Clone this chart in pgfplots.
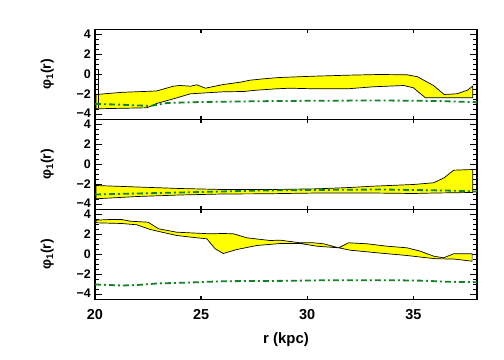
\documentclass[border=0pt]{standalone}
\usepackage{fontspec}
\setmainfont{Liberation Sans}
\usepackage{pgfplots}
\pgfplotsset{compat=1.18}

\definecolor{bandyellow}{RGB}{255,255,0}
\definecolor{dkgreen}{RGB}{20,130,40}

\pgfplotsset{
  panel/.style={
    width=382bp, height=90bp, scale only axis, anchor=south west,
    xmin=20, xmax=38, ymin=-4.5, ymax=4.5,
    xtick={20,25,30,35}, ytick={-4,-2,0,2,4},
    yticklabels={\raisebox{3bp}{−4},−2,0,2,\raisebox{-3bp}{4}},
    minor y tick num=3,
    tick align=inside,
    major tick length=7bp, minor tick length=4bp,
    xtick style={/pgfplots/major tick length=3.5bp},
    line width=1.6bp,
    tick style={black, line width=1.3bp},
    /pgf/number format/assume math mode=true,
    xticklabel style={font=\bfseries\fontsize{14.5}{15}\selectfont},
    yticklabel style={font=\bfseries\fontsize{12.5}{13}\selectfont},
    ylabel={φ\textsubscript{1}(r)},
    ylabel style={font=\bfseries\fontsize{14}{15}\selectfont,
      at={(axis description cs:-0.125,0.5)}, anchor=center},
  },
  band/.style={fill=bandyellow, draw=black, line width=0.7bp},
  mdl/.style={dkgreen, line width=1.8bp,
    dash pattern=on 6bp off 3bp on 2bp off 3bp},
}

\begin{document}
\begin{tikzpicture}
\useasboundingbox (0,0) rectangle (504bp,360bp);

% top panel
\begin{axis}[panel, at={(95bp,240.5bp)}, xticklabels={}]
\addplot[band] coordinates {
(20.05,-2.0) (21.3,-1.78) (22.9,-1.65) (23.7,-1.17) (24.0,-1.1) (24.5,-1.17)
(24.8,-1.03) (25.2,-1.37) (26.05,-1.0) (26.85,-0.77) (27.3,-0.57) (27.95,-0.43)
(28.7,-0.3) (30.3,-0.17) (31.9,-0.07) (33.4,0.0) (34.7,-0.03) (35.2,-0.23)
(35.95,-1.1) (36.45,-2.0) (37.05,-1.93) (37.55,-1.57) (37.8,-1.15)
(37.8,-2.33) (35.57,-2.33) (35.0,-1.33) (34.55,-1.1) (33.1,-1.23) (31.9,-1.43)
(30.3,-1.43) (29.2,-1.37) (28.55,-1.43) (27.6,-1.57) (27.0,-1.7) (26.05,-1.73)
(25.25,-1.83) (24.5,-1.93) (23.7,-2.43) (22.9,-2.9) (22.45,-3.33) (20.05,-3.43)
} -- cycle;
\addplot[black, line width=1.2bp] coordinates {(20.15,0.5) (20.15,-3.4)};
\addplot[mdl] coordinates {
(20,-2.95) (21,-3.0) (22.6,-3.15) (23.4,-2.85) (25,-2.75) (27.8,-2.67)
(30,-2.63) (33,-2.6) (35,-2.62) (36.1,-2.65) (38,-2.77)
};
\end{axis}

% middle panel
\begin{axis}[panel, at={(95bp,150.5bp)}, xticklabels={}]
\addplot[band] coordinates {
(20.05,-2.1) (22,-2.25) (24,-2.4) (26,-2.5) (28.5,-2.5) (30.5,-2.43) (32,-2.3)
(33.1,-2.17) (35,-2.0) (35.95,-1.83) (36.45,-1.33) (36.9,-0.57) (37.8,-0.5)
(37.8,-2.8) (36,-2.85) (35,-2.9) (33,-2.85) (30.5,-2.85) (28,-2.93) (26,-2.95)
(24,-3.05) (22,-3.2) (20.05,-3.43)
} -- cycle;
\addplot[mdl] coordinates {
(20,-3.0) (21,-2.95) (23.4,-2.83) (25,-2.75) (27.8,-2.6) (30,-2.55)
(33.6,-2.5) (35,-2.55) (36.5,-2.6) (38,-2.7)
};
\end{axis}

% bottom panel
\begin{axis}[panel, at={(95bp,60.5bp)},
  xlabel={r (kpc)},
  xlabel style={font=\bfseries\fontsize{15}{16}\selectfont,
    at={(axis description cs:0.5,-0.45)}, anchor=center},
  xticklabel style={yshift=-6bp}]
\addplot[band] coordinates {
(20.05,3.43) (20.7,3.5) (21.26,3.5) (21.65,3.33) (22.5,3.23) (23.0,2.57)
(23.85,2.23) (25.42,2.07) (26.05,2.1) (26.52,2.07) (27.15,1.67) (28.25,1.4)
(28.73,1.43) (29.67,1.17) (30.3,1.17) (30.77,1.07) (31.48,0.67) (31.95,1.17)
(32.82,1.07) (33.76,0.83) (34.7,0.67) (35.33,0.33) (35.96,-0.17) (36.43,-0.33)
(36.9,0.07) (37.77,0.07)
(37.77,-0.67) (36.9,-0.45) (36.1,-0.43) (35.64,-0.33) (34.7,-0.1) (33.29,0.17)
(32.03,0.43) (31.48,0.67) (30.46,0.83) (29.67,1.1) (28.73,1.1) (27.63,0.9)
(26.68,0.5) (26.05,0.1) (25.66,0.57) (25.27,1.57) (24.8,1.67) (23.85,1.9)
(22.6,2.5) (21.97,2.97) (21.26,3.1) (20.05,3.17)
} -- cycle;
\addplot[mdl] coordinates {
(20,-3.0) (21.3,-3.1) (22,-3.05) (22.9,-2.9) (24.5,-2.8) (26.05,-2.67)
(29.2,-2.63) (31,-2.57) (34,-2.57) (35.5,-2.62) (36.5,-2.72) (38,-2.77)
};
\end{axis}
\end{tikzpicture}
\end{document}
